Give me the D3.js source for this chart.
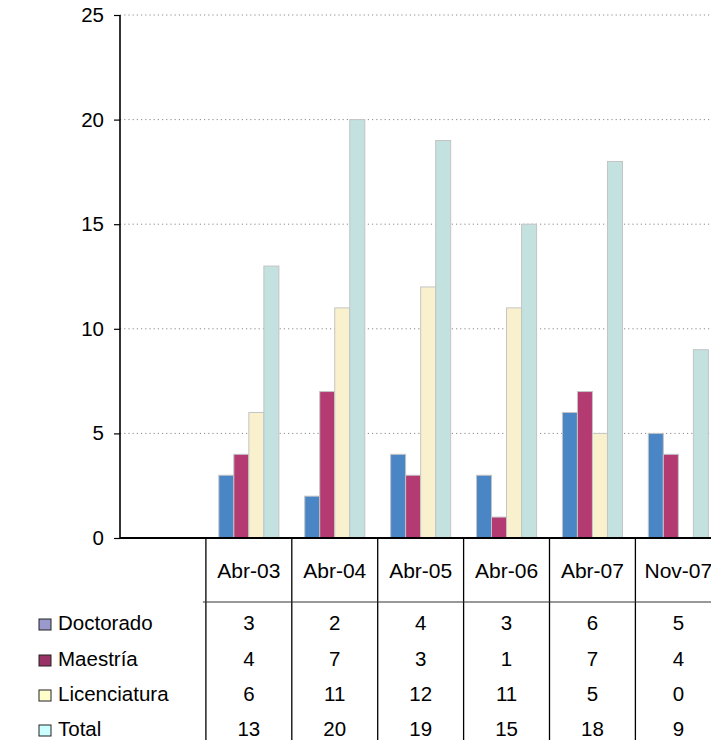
<!DOCTYPE html>
<html>
<head>
<meta charset="utf-8">
<script src="https://cdn.jsdelivr.net/npm/d3@7/dist/d3.min.js"></script>
<style>
  html, body { margin: 0; padding: 0; background: #fff; }
  svg { display: block; font-family: "Liberation Sans", Arial, sans-serif; }
</style>
</head>
<body>
<svg id="chart" width="711" height="740"></svg>
<script>
// Categories (periods) and the four series shown in the chart and data table
const categories = ["Abr-03", "Abr-04", "Abr-05", "Abr-06", "Abr-07", "Nov-07"];
const seriesNames = ["Doctorado", "Maestría", "Licenciatura", "Total"];
const doctorado    = [3, 2, 4, 3, 6, 5];
const maestria     = [4, 7, 3, 1, 7, 4];
const licenciatura = [6, 11, 12, 11, 5, 0];
const total        = [13, 20, 19, 15, 18, 9];
const yTicks = [0, 5, 10, 15, 20, 25];

const seriesValues = [doctorado, maestria, licenciatura, total];
const barColors = ["#4a86c5", "#b43a72", "#f9f1cd", "#c2e1df"];
const keyColors = ["#9999cc", "#993366", "#ffffcc", "#ccffff"];

const svg = d3.select("#chart");

// Plot area: an empty leading slot sits left of the first period
const plotLeft = 120, plotTop = 15, plotBottom = 538;
const slots = ["", ...categories];
const x = d3.scaleBand().domain(slots).range([plotLeft, plotLeft + 85.9 * slots.length]).padding(0);
const y = d3.scaleLinear().domain([0, 25]).range([plotBottom, plotTop]);
const xs = d3.scaleBand().domain(seriesNames).range([0, x.bandwidth()])
  .paddingInner(0).paddingOuter(0.86);

// Dotted gridlines
svg.append("g")
  .selectAll("line")
  .data(yTicks.filter(t => t > 0))
  .join("line")
  .attr("x1", plotLeft).attr("x2", 711)
  .attr("y1", d => y(d)).attr("y2", d => y(d))
  .attr("stroke", "#8a8a8a")
  .attr("stroke-width", 1)
  .attr("stroke-dasharray", "1.2,3");

// Bars
const barData = [];
categories.forEach((c, i) => {
  seriesNames.forEach((s, j) => {
    barData.push({ cat: c, series: s, value: seriesValues[j][i], color: barColors[j] });
  });
});
svg.append("g")
  .selectAll("rect")
  .data(barData.filter(d => d.value > 0))
  .join("rect")
  .attr("x", d => x(d.cat) + xs(d.series))
  .attr("y", d => y(d.value))
  .attr("width", xs.bandwidth())
  .attr("height", d => y(0) - y(d.value))
  .attr("fill", d => d.color)
  .attr("stroke", "#c4c4c4")
  .attr("stroke-width", 1);

// Y axis
const yAxis = d3.axisLeft(y).tickValues(yTicks).tickSize(6).tickPadding(10);
const gy = svg.append("g").attr("transform", `translate(${plotLeft},0)`).call(yAxis);
gy.select(".domain").attr("stroke", "#000").attr("stroke-width", 1.6).attr("d", `M0,${plotTop}V${plotBottom}`);
gy.selectAll(".tick line").attr("stroke", "#000").attr("stroke-width", 1.2);
gy.selectAll(".tick text").attr("font-size", 20.5).attr("fill", "#000")
  .attr("font-family", "Liberation Sans, Arial, sans-serif");

// X axis baseline
svg.append("line")
  .attr("x1", plotLeft).attr("x2", 711)
  .attr("y1", plotBottom).attr("y2", plotBottom)
  .attr("stroke", "#000").attr("stroke-width", 2);

// Data table below the plot
const table = svg.append("g").attr("font-size", 20.5).attr("fill", "#000");
const headerLineY = 602;
const rowBaselines = [630, 666, 701, 736];

table.selectAll("line.vline")
  .data(categories)
  .join("line")
  .attr("class", "vline")
  .attr("x1", d => x(d)).attr("x2", d => x(d))
  .attr("y1", plotBottom).attr("y2", 740)
  .attr("stroke", "#000").attr("stroke-width", 1.3);

table.append("line")
  .attr("x1", x(categories[0]) - 3).attr("x2", 711)
  .attr("y1", headerLineY).attr("y2", headerLineY)
  .attr("stroke", "#333").attr("stroke-width", 1);

table.selectAll("text.head")
  .data(categories)
  .join("text")
  .attr("class", "head")
  .attr("x", d => x(d) + x.bandwidth() / 2)
  .attr("y", 578)
  .attr("text-anchor", "middle")
  .attr("font-size", 21)
  .text(d => d);

seriesNames.forEach((s, j) => {
  const row = table.append("g");
  row.append("rect")
    .attr("x", 39).attr("y", rowBaselines[j] - 11)
    .attr("width", 12).attr("height", 11)
    .attr("fill", keyColors[j])
    .attr("stroke", "#222").attr("stroke-width", 1);
  row.append("text")
    .attr("x", 58).attr("y", rowBaselines[j])
    .attr("font-size", 20.5)
    .text(s);
  row.selectAll("text.val")
    .data(categories.map((c, i) => ({ c, v: seriesValues[j][i] })))
    .join("text")
    .attr("class", "val")
    .attr("x", d => x(d.c) + x.bandwidth() / 2)
    .attr("y", rowBaselines[j])
    .attr("text-anchor", "middle")
    .text(d => d.v);
});
</script>
</body>
</html>
